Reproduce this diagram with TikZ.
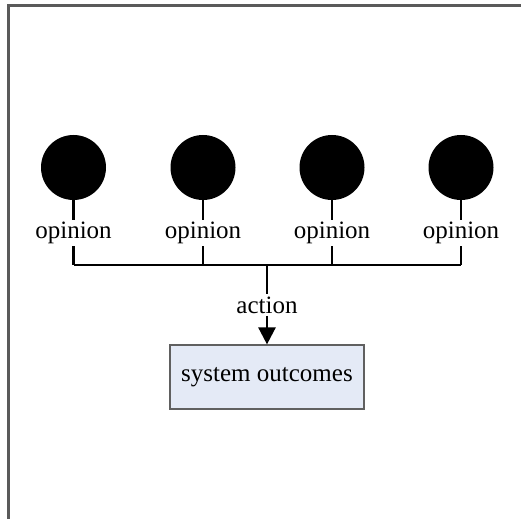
\documentclass[tikz,border=0pt]{standalone}
\usepackage{fontspec}
\setmainfont{Liberation Serif}
\usetikzlibrary{arrows.meta}
\definecolor{framegray}{HTML}{5A5A5A}
\definecolor{boxfill}{HTML}{E4EAF6}
\definecolor{boxedge}{HTML}{606060}
\begin{document}
\begin{tikzpicture}[x=0.5pt,y=-0.5pt,
  agent/.style={circle,fill=black,minimum size=32.5pt,inner sep=0pt},
  lbl/.style={inner sep=1pt,font=\fontsize{12.5pt}{14pt}\selectfont},
  wire/.style={line width=1.3pt,black},
  outbox/.style={draw=boxedge,fill=boxfill,line width=0.6pt,minimum width=97pt,minimum height=32pt,inner sep=0pt,font=\fontsize{12.5pt}{14pt}\selectfont}]
\useasboundingbox (0,0) rectangle (521,519);
% partial frame
\draw[framegray,line width=1.1pt] (8.5,519) -- (8.5,5.5) -- (521,5.5);
% agents with their opinions
\foreach \i/\x in {1/73.5,2/203,3/332,4/461}{
  \node[agent] (c\i) at (\x,167.5) {};
  \node[lbl] (o\i) at (\x,233) {opinion};
  \coordinate (b\i) at (\x,265);
  \draw[wire] (c\i.south) -- (o\i.north);
  \draw[wire] (o\i.south) -- (b\i);
}
% aggregation bus
\draw[wire] (b1) -- (b4);
\coordinate (bm) at (267,265);
\node[lbl] (act) at (267,305) {action};
\node[outbox] (sys) at (267,377) {system outcomes};
\draw[wire] (bm) -- (act.north);
\draw[wire,-{Triangle[width=8.5pt,length=8.5pt]}] (act.south) -- (sys.north);
\end{tikzpicture}
\end{document}
